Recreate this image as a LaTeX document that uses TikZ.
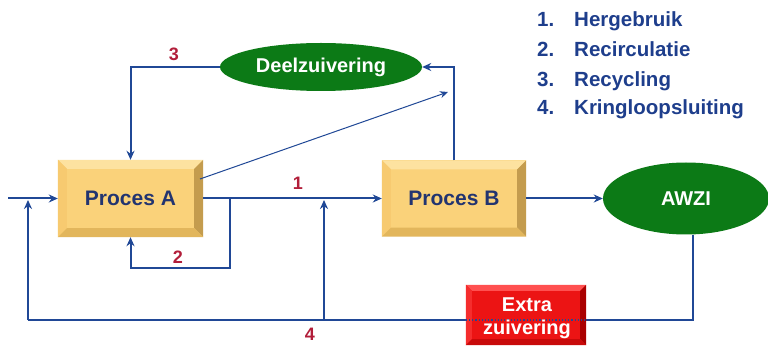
\documentclass[tikz,border=0pt]{standalone}
\usepackage{fontspec}
\setmainfont{Liberation Sans}
\usetikzlibrary{arrows.meta,shapes.geometric,calc}
\definecolor{flow}{RGB}{32,72,150}
\definecolor{navy}{RGB}{34,52,112}
\definecolor{legend}{RGB}{30,62,140}
\definecolor{grn}{RGB}{12,122,22}
\definecolor{lbl}{RGB}{178,30,58}
\definecolor{face}{RGB}{250,210,122}
\definecolor{bevtop}{RGB}{253,226,160}
\definecolor{bevleft}{RGB}{247,202,112}
\definecolor{bevright}{RGB}{196,156,78}
\definecolor{bevbot}{RGB}{226,182,92}
\definecolor{rface}{RGB}{236,20,20}
\definecolor{rtop}{RGB}{255,80,80}
\definecolor{rleft}{RGB}{245,45,45}
\definecolor{rright}{RGB}{170,0,0}
\definecolor{rbot}{RGB}{200,10,10}
\newcommand{\bevelit}[6]{%
  \fill[#2] (#1.north west) -- (#1.north east) -- ([shift={(-#6,#6)}]#1.north east) -- ([shift={(#6,#6)}]#1.north west) -- cycle;
  \fill[#3] (#1.north west) -- (#1.south west) -- ([shift={(#6,-#6)}]#1.south west) -- ([shift={(#6,#6)}]#1.north west) -- cycle;
  \fill[#4] (#1.north east) -- (#1.south east) -- ([shift={(-#6,-#6)}]#1.south east) -- ([shift={(-#6,#6)}]#1.north east) -- cycle;
  \fill[#5] (#1.south west) -- (#1.south east) -- ([shift={(-#6,-#6)}]#1.south east) -- ([shift={(#6,-#6)}]#1.south west) -- cycle;
}
\tikzset{
  procbox/.style={rectangle, fill=face, inner sep=0pt, text=navy, font=\fontsize{21}{24}\selectfont\bfseries},
  redbox/.style={rectangle, fill=rface, inner sep=0pt, text=white, align=center, font=\fontsize{20}{23}\selectfont\bfseries},
  greenell/.style={ellipse, fill=grn, inner sep=0pt, text=white, font=\fontsize{20}{24}\selectfont\bfseries},
  flowline/.style={draw=flow, line width=2pt},
  arr/.style={flowline, -{Stealth[length=9pt,width=8pt]}},
  thinarr/.style={draw=flow, line width=1pt, -{Stealth[length=8pt,width=7pt]}},
  numlbl/.style={text=lbl, font=\fontsize{18}{20}\selectfont\bfseries, inner sep=0pt},
  legnum/.style={text=legend, anchor=base west, inner sep=0pt, font=\fontsize{20.5}{24}\selectfont\bfseries},
}
\begin{document}
\begin{tikzpicture}[x=1pt,y=-1pt]
\useasboundingbox (0,0) rectangle (768,347);
\fill[white] (0,0) rectangle (768,347);

% nodes
\node[procbox, minimum width=145pt, minimum height=77pt] (A) at (130.5,198.5) {};
\bevelit{A}{bevtop}{bevleft}{bevright}{bevbot}{9}
\node[text=navy, font=\fontsize{21}{24}\selectfont\bfseries] (At) at (A.center) {Proces A};

\node[procbox, minimum width=144pt, minimum height=76pt] (B) at (454,198.5) {};
\bevelit{B}{bevtop}{bevleft}{bevright}{bevbot}{9}
\node[text=navy, font=\fontsize{21}{24}\selectfont\bfseries] (Bt) at (B.center) {Proces B};

\node[greenell, minimum width=202pt, minimum height=48pt] (D) at (321,67) {Deelzuivering};
\node[greenell, minimum width=166pt, minimum height=72pt] (W) at (686,198.5) {AWZI};

% coordinates
\coordinate (in) at (8,198.5);
\coordinate (j2) at (230,198.5);
\coordinate (l2) at (230,268);
\coordinate (diagS) at (200,179);
\coordinate (diagE) at (448,92);
\coordinate (wdown) at (693,320);
\coordinate (bl) at (28,320);
\coordinate (blup) at (28,200);
\coordinate (m4) at (324,320);
\coordinate (m4up) at (324,200);

% connectors
\draw[arr] (in) -- (A.west);
\draw[arr] (A.east) -- (B.west);
\draw[arr] (j2) -- (l2) -| (A.south);
\draw[arr] (D.west) -| (A.north);
\draw[arr] (B.north) |- (D.east);
\draw[thinarr] (diagS) -- (diagE);
\draw[arr] (B.east) -- (W.west);
\draw[flowline] ([xshift=7pt]W.south) -- (wdown) -- (bl);
\draw[arr] (bl) -- (blup);
\draw[arr] (m4) -- (m4up);

% red box
\node[redbox, minimum width=120pt, minimum height=60pt] (X) at (526,315) {};
\bevelit{X}{rtop}{rleft}{rright}{rbot}{6}
\draw[flow, line width=1.2pt, dotted] (X.west |- wdown) -- (X.east |- wdown);
\node[redbox, fill=none] (Xt) at (527,318) {Extra\\zuivering};

% number labels
\node[numlbl] (n1) at (298,183) {1};
\node[numlbl] (n2) at (178,257) {2};
\node[numlbl] (n3) at (174,54) {3};
\node[numlbl] (n4) at (310,334) {4};

% legend
\node[legnum] (k1) at (537,27) {1.};
\node[legnum] (h1) at (574,27) {Hergebruik};
\node[legnum] (k2) at (537,57) {2.};
\node[legnum] (h2) at (574,57) {Recirculatie};
\node[legnum] (k3) at (537,87) {3.};
\node[legnum] (h3) at (574,87) {Recycling};
\node[legnum] (k4) at (537,115) {4.};
\node[legnum] (h4) at (574,115) {Kringloopsluiting};
\end{tikzpicture}
\end{document}
